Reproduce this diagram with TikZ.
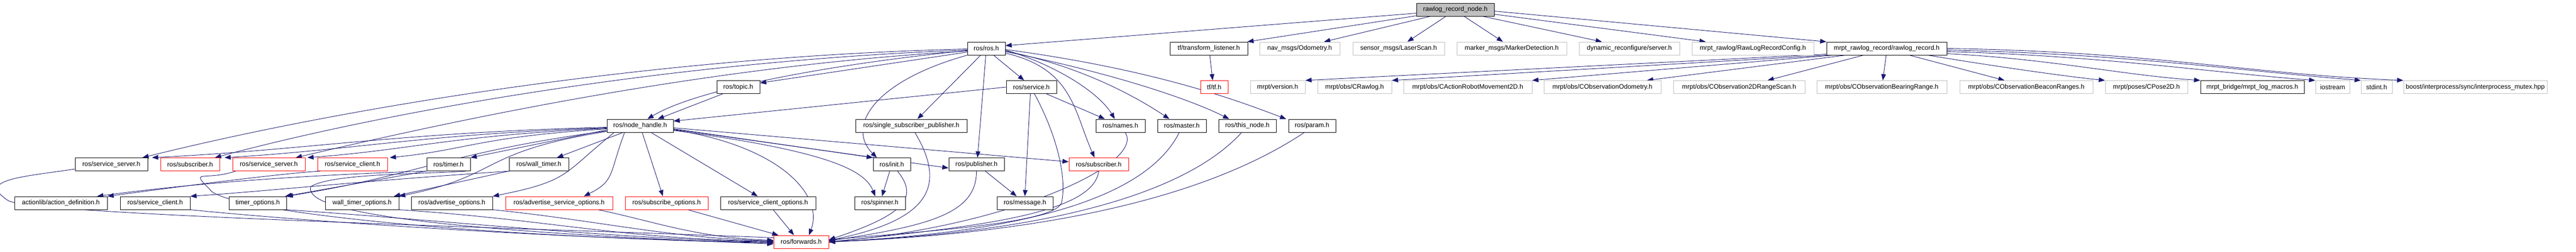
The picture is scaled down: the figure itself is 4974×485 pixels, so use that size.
\documentclass[tikz,border=0pt]{standalone}
\usepackage{fontspec}
\setmainfont{Liberation Sans}
\usetikzlibrary{arrows.meta,calc}
\definecolor{edgeblue}{HTML}{191970}
\definecolor{boxgray}{HTML}{BFBFBF}
\definecolor{boxred}{HTML}{FF0000}
\pgfdeclarelayer{edges}
\pgfsetlayers{edges,main}
\tikzset{
  nb/.style={draw=black, fill=white, line width=1pt, rectangle, minimum height=25pt, inner sep=0pt, font=\fontsize{12.5}{14}\selectfont, text=black},
  nr/.style={nb, draw=boxred},
  ng/.style={nb, draw=boxgray},
  nroot/.style={nb, fill=boxgray},
  e/.style={draw=edgeblue, line width=0.9pt, -{Triangle[length=12pt,width=9pt]}},
}
\begin{document}
\begin{tikzpicture}[x=1pt,y=-1pt]
\useasboundingbox (0,0) rectangle (4974,485);
% row 0
\node[nroot, minimum width=150pt] (root) at (2810,18.5) {rawlog\_record\_node.h};
% row 1
\node[nb, minimum width=73pt] (ros) at (1904.5,93.5) {ros/ros.h};
\node[nb, minimum width=150pt] (tfl) at (2334,93.5) {tf/transform\_listener.h};
\node[ng, minimum width=155pt] (nav) at (2509.5,93.5) {nav\_msgs/Odometry.h};
\node[ng, minimum width=177pt] (laser) at (2700.5,93.5) {sensor\_msgs/LaserScan.h};
\node[ng, minimum width=212pt] (marker) at (2919,93.5) {marker\_msgs/MarkerDetection.h};
\node[ng, minimum width=194pt] (dyn) at (3146,93.5) {dynamic\_reconfigure/server.h};
\node[ng, minimum width=235pt] (cfg) at (3384.5,93.5) {mrpt\_rawlog/RawLogRecordConfig.h};
\node[nb, minimum width=232pt] (rr) at (3643,93.5) {mrpt\_rawlog\_record/rawlog\_record.h};
% row 2
\node[nb, minimum width=83pt] (topic) at (1425.5,168) {ros/topic.h};
\node[nb, minimum width=97pt] (service) at (1991.5,168) {ros/service.h};
\node[nr, minimum width=53pt] (tf) at (2344.5,168) {tf/tf.h};
\node[ng, minimum width=106pt] (ver) at (2467,168) {mrpt/version.h};
\node[ng, minimum width=143pt] (crawlog) at (2615.5,168) {mrpt/obs/CRawlog.h};
\node[ng, minimum width=248pt] (carm) at (2834,168) {mrpt/obs/CActionRobotMovement2D.h};
\node[ng, minimum width=226pt] (codo) at (3094,168) {mrpt/obs/CObservationOdometry.h};
\node[ng, minimum width=254pt] (c2d) at (3358,168) {mrpt/obs/CObservation2DRangeScan.h};
\node[ng, minimum width=251pt] (cbear) at (3633.5,168) {mrpt/obs/CObservationBearingRange.h};
\node[ng, minimum width=257pt] (cbeac) at (3912.5,168) {mrpt/obs/CObservationBeaconRanges.h};
\node[ng, minimum width=159pt] (pose) at (4144.5,168) {mrpt/poses/CPose2D.h};
\node[nb, minimum width=200pt] (logm) at (4349,168) {mrpt\_bridge/mrpt\_log\_macros.h};
\node[ng, minimum width=66pt] (ios) at (4504,168) {iostream};
\node[ng, minimum width=60pt] (stdint) at (4589,168) {stdint.h};
\node[ng, minimum width=277pt] (boost) at (4779.5,168) {boost/interprocess/sync/interprocess\_mutex.hpp};
% row 3
\node[nb, minimum width=128pt] (nh) at (1236,242.5) {ros/node\_handle.h};
\node[nb, minimum width=215pt] (ssp) at (1759.5,242.5) {ros/single\_subscriber\_publisher.h};
\node[nb, minimum width=95pt] (names) at (2163.5,242.5) {ros/names.h};
\node[nb, minimum width=94pt] (master) at (2282,242.5) {ros/master.h};
\node[nb, minimum width=111pt] (thisnode) at (2408.5,242.5) {ros/this\_node.h};
\node[nb, minimum width=91pt] (param) at (2533.5,242.5) {ros/param.h};
% row 4
\node[nb, minimum width=140pt] (ssb) at (215,317) {ros/service\_server.h};
\node[nr, minimum width=114pt] (subr) at (367,317) {ros/subscriber.h};
\node[nr, minimum width=140pt] (ssr) at (519,317) {ros/service\_server.h};
\node[nr, minimum width=135pt] (scr) at (680.5,317) {ros/service\_client.h};
\node[nb, minimum width=84pt] (timer) at (866,317) {ros/timer.h};
\node[nb, minimum width=115pt] (wtimer) at (1040.5,317) {ros/wall\_timer.h};
\node[nb, minimum width=72pt] (init) at (1722,317) {ros/init.h};
\node[nb, minimum width=107pt] (pub) at (1885.5,317) {ros/publisher.h};
\node[nr, minimum width=115pt] (sub2) at (2121.5,317) {ros/subscriber.h};
% row 5
\node[nb, minimum width=179pt] (actdef) at (117.5,391.5) {actionlib/action\_definition.h};
\node[nb, minimum width=135pt] (scb) at (299.5,391.5) {ros/service\_client.h};
\node[nb, minimum width=111pt] (topt) at (497.5,391.5) {timer\_options.h};
\node[nb, minimum width=142pt] (wtopt) at (699,391.5) {wall\_timer\_options.h};
\node[nb, minimum width=157pt] (advopt) at (872.5,391.5) {ros/advertise\_options.h};
\node[nr, minimum width=207pt] (advsopt) at (1079.5,391.5) {ros/advertise\_service\_options.h};
\node[nr, minimum width=160pt] (subopt) at (1287,391.5) {ros/subscribe\_options.h};
\node[nb, minimum width=184pt] (scopt) at (1483,391.5) {ros/service\_client\_options.h};
\node[nb, minimum width=98pt] (spinner) at (1699,391.5) {ros/spinner.h};
\node[nb, minimum width=108pt] (msg) at (1979,391.5) {ros/message.h};
% row 6
\node[nr, minimum width=106pt] (fwd) at (1547,466.5) {ros/forwards.h};

\begin{pgfonlayer}{edges}
% ---- edges from root
\draw[e] ([yshift=-7pt]root.west) -- ([yshift=5.5pt]ros.east);
\draw[e] ([yshift=-12pt]root.west) -- ([xshift=-1pt]tfl.north east);
\draw[e] ([xshift=-48pt]root.south) -- ([xshift=47pt]nav.north);
\draw[e] ([xshift=-18pt]root.south) -- ([xshift=17pt]laser.north);
\draw[e] ([xshift=17pt]root.south) -- ([xshift=-17pt]marker.north);
\draw[e] ([xshift=53pt]root.south) -- ([xshift=-53pt]dyn.north);
\draw[e] ([yshift=-9pt]root.east) -- ([xshift=-91pt]cfg.north);
\draw[e] ([yshift=-3pt]root.east) -- (rr.north west);
\draw[e] ([xshift=2pt]tfl.south) -- ([xshift=-3pt]tf.north);
% ---- edges from rawlog_record.h
\draw[e] ([yshift=2pt]rr.south west) -- (ver.north east);
\draw[e] (rr.south west) -- (crawlog.north east);
\draw[e] ([xshift=-105pt]rr.south) -- (carm.north east);
\draw[e] ([xshift=-80pt]rr.south) -- ([xshift=86pt]codo.north);
\draw[e] ([xshift=-45pt]rr.south) -- ([xshift=55pt]c2d.north);
\draw[e] ([xshift=-1pt]rr.south) -- ([xshift=2pt]cbear.north);
\draw[e] ([xshift=44pt]rr.south) -- ([xshift=-42pt]cbeac.north);
\draw[e] ([xshift=80pt]rr.south) .. controls +(120,20) and +(-80,-8) .. (pose.north west);
\draw[e] ([yshift=-10pt]rr.east) .. controls +(200,10) and +(-150,-10) .. (logm.north west);
\draw[e] ([yshift=-6pt]rr.east) .. controls +(300,8) and +(-200,-15) .. (ios.north west);
\draw[e] ([yshift=-3pt]rr.east) .. controls +(350,8) and +(-250,-20) .. (stdint.north west);
\draw[e] ([yshift=0pt]rr.east) .. controls +(400,6) and +(-300,-12) .. (boost.north west);
% ---- edges from ros.h
\draw[e] ([xshift=14pt]ros.south) -- ([xshift=-14pt]service.north);
\draw[e] ([xshift=-11pt]ros.south) -- ([xshift=12pt]ssp.north);
\draw[e] ([xshift=-1pt]ros.south) -- ([xshift=2pt]pub.north);
\draw[e] (ros.south west) .. controls +(-180,50) and +(-60,-60) .. ([xshift=-29pt]init.north);
\draw[e] ([yshift=-4pt]ros.west) .. controls +(-250,25) and +(100,-60) .. ([xshift=14pt]nh.north);
\draw[e] ([yshift=-7pt]ros.west) -- ([yshift=8pt]topic.east);
\draw[e] ([yshift=-3pt]ros.east) .. controls +(100,30) and +(-30,-50) .. ([xshift=-11pt]names.north);
\draw[e] ([yshift=-5pt]ros.east) .. controls +(150,30) and +(-60,-40) .. ([xshift=-24pt]master.north);
\draw[e] ([yshift=-6pt]ros.east) .. controls +(200,40) and +(-80,-40) .. ([xshift=-35pt]thisnode.north);
\draw[e] ([yshift=-2pt]ros.east) .. controls +(300,40) and +(-80,-30) .. ([xshift=-50pt]param.north);
\draw[e] ([yshift=-9pt]ros.east) .. controls +(130,30) and +(-40,-90) .. ([xshift=-8pt]sub2.north);
\draw[e] ([yshift=-1pt]ros.west) .. controls +(-568,13) and +(423,-105) .. ([xshift=60pt]ssb.north);
\draw[e] ([yshift=-3pt]ros.west) .. controls +(-568,21) and +(335,-90) .. ([xshift=48pt]subr.north);
\draw[e] ([yshift=-5pt]ros.west) .. controls +(-518,29) and +(277,-65) .. ([xshift=52pt]ssr.north);
% ---- service.h, topic.h
\draw[e] (service.west) -- ([yshift=9pt]nh.east);
\draw[e] ([xshift=-30pt]topic.south) -- ([xshift=34pt]nh.north);
\draw[e] ([xshift=29pt]service.south) -- ([xshift=-30pt]names.north);
\draw[e] ([xshift=-2pt]service.south) -- (msg.north);
\draw[e] ([xshift=6pt]service.south) .. controls (2040,260) and (2060,340) .. (2050,390) .. controls (2040,430) and (1800,445) .. ([yshift=4pt]fwd.east);
% ---- node_handle.h
\draw[e] ([yshift=-3pt]nh.west) .. controls +(-400,10) and +(300,-15) .. ([xshift=8pt]ssb.north east);
\draw[e] ([yshift=-4pt]nh.west) .. controls +(-350,12) and +(250,-15) .. ([xshift=9pt]subr.north east);
\draw[e] ([yshift=-5pt]nh.west) .. controls +(-300,14) and +(200,-15) .. ([xshift=4pt]ssr.north east);
\draw[e] ([yshift=-6pt]nh.west) .. controls +(-250,16) and +(150,-15) .. ([xshift=4pt]scr.north east);
\draw[e] ([yshift=-8pt]nh.west) -- (timer.north east);
\draw[e] ([xshift=-33pt]nh.south) -- ([xshift=35pt]wtimer.north);
\draw[e] ([yshift=-10pt]nh.west) .. controls +(-300,40) and +(250,-40) .. (topt.north east);
\draw[e] ([yshift=-11pt]nh.west) .. controls +(-250,40) and +(200,-40) .. (wtopt.north east);
\draw[e] ([xshift=-50pt]nh.south) .. controls +(-100,80) and +(150,-30) .. (advopt.north east);
\draw[e] ([xshift=-30pt]nh.south) .. controls +(-30,80) and +(60,-30) .. ([xshift=48pt]advsopt.north);
\draw[e] ([xshift=4pt]nh.south) -- ([xshift=-7pt]subopt.north);
\draw[e] ([xshift=21pt]nh.south) -- ([xshift=-20pt]scopt.north);
\draw[e] ([yshift=-8pt]nh.east) .. controls +(200,30) and +(30,-80) .. ([xshift=15pt]fwd.north);
\draw[e] ([yshift=-4pt]nh.east) -- ([yshift=5pt]sub2.west);
\draw[e] ([yshift=-6pt]nh.east) -- (init.north west);
\draw[e] ([yshift=-7pt]nh.east) -- ([yshift=-7pt]pub.west);
\draw[e] ([yshift=-9pt]nh.east) .. controls +(300,40) and +(-20,-50) .. ([xshift=-9pt]spinner.north);
% ---- lower ros/ level
\draw[e] ([xshift=-4pt]init.south) -- ([xshift=4pt]spinner.north);
\draw[e] ([xshift=11pt]init.south) .. controls +(40,50) and +(150,-50) .. ([yshift=4pt]fwd.east);
\draw[e] ([xshift=7pt]ssp.south) .. controls +(60,100) and +(200,-40) .. ([yshift=3pt]fwd.east);
\draw[e] (pub.south) .. controls +(0,80) and +(200,-30) .. ([yshift=2pt]fwd.east);
\draw[e] ([xshift=17pt]pub.south) -- ([xshift=-16pt]msg.north);
\draw[e] (sub2.south) .. controls +(-10,80) and +(300,-30) .. (fwd.east);
\draw[e] ([xshift=9pt]names.south) .. controls +(40,60) and +(350,-30) .. (fwd.east);
\draw[e] ([xshift=-5pt]master.south) .. controls +(-60,120) and +(400,-20) .. (fwd.east);
\draw[e] ([xshift=-11pt]thisnode.south) .. controls +(-100,110) and +(450,-20) .. (fwd.east);
\draw[e] ([xshift=-15pt]param.south) .. controls +(-150,100) and +(500,-20) .. (fwd.east);
% ---- left level
\draw[e] ([yshift=-9pt]ssb.west) .. controls +(-100,15) and +(-60,-40) .. ++(-130,60) .. controls +(40,40) and +(600,-5) .. ([yshift=-3pt]fwd.west);
\draw[e] (scb.south east) .. controls +(300,30) and +(-300,-5) .. ([yshift=-2pt]fwd.west);
\draw[e] ([xshift=-64pt]ssr.south) .. controls +(-60,20) and +(-40,-40) .. ++(-50,35) .. controls +(20,40) and +(-600,-10) .. ([yshift=-1pt]fwd.west);
\draw[e] ([xshift=-62pt]scr.south) .. controls +(-80,5) and +(150,-20) .. (actdef.north east);
\draw[e] (timer.south west) .. controls +(-300,10) and +(150,-20) .. ([xshift=-20pt]actdef.north east);
\draw[e] ([xshift=2pt]wtimer.south west) .. controls +(-300,20) and +(150,-10) .. (scb.north east);
\draw[e] (timer.south west) -- ([xshift=-3pt]topt.north east);
\draw[e] (wtimer.south west) -- ([xshift=-10pt]wtopt.north east);
\draw[e] ([xshift=34pt]timer.south) .. controls (820,336) and (640,334) .. (600,360) .. controls (590,395) and (700,440) .. ([yshift=-4pt]fwd.west);
\draw[e] (topt.south east) .. controls +(300,20) and +(-300,-5) .. (fwd.west);
\draw[e] (wtopt.south east) .. controls +(300,20) and +(-300,-5) .. ([yshift=1pt]fwd.west);
\draw[e] (advopt.south east) .. controls +(200,20) and +(-200,-5) .. ([yshift=2pt]fwd.west);
\draw[e] ([xshift=75pt]advsopt.south) .. controls +(100,20) and +(-150,-5) .. ([yshift=3pt]fwd.west);
\draw[e] ([xshift=41pt]subopt.south) -- ([xshift=-44pt]fwd.north);
\draw[e] ([xshift=10pt]scopt.south) -- ([xshift=-14pt]fwd.north);
\end{pgfonlayer}
\end{tikzpicture}
\end{document}
